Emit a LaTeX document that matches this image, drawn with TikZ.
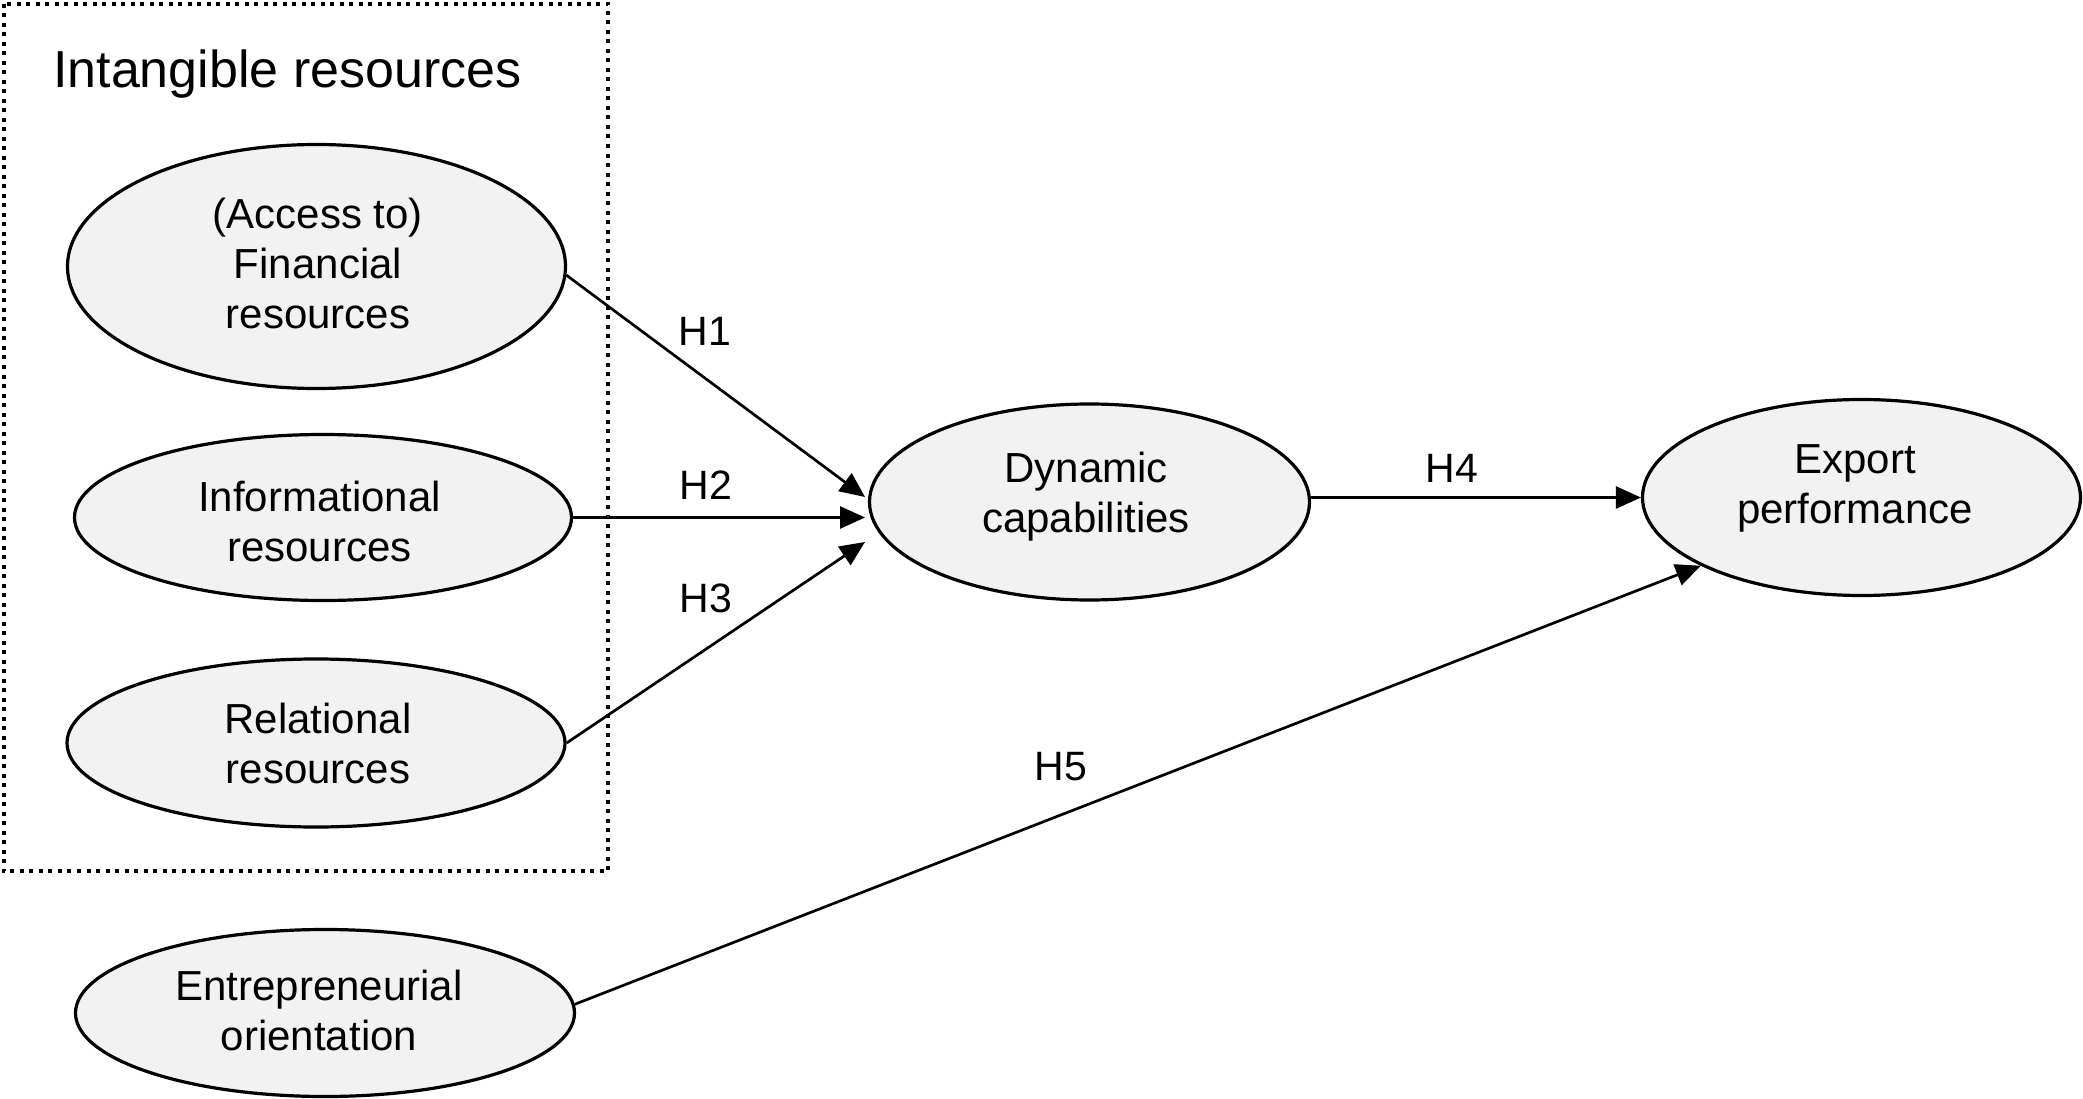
\documentclass[tikz,border=0pt]{standalone}
\usepackage{fontspec}
\setmainfont{Liberation Sans}
\usetikzlibrary{arrows.meta,shapes.geometric,calc}
\definecolor{ellfill}{HTML}{F2F2F2}
\begin{document}
\begin{tikzpicture}[x=1pt,y=-1pt,
  ell/.style={draw, line width=3.2pt, fill=ellfill, ellipse, inner sep=0pt},
  lbl/.style={align=center, inner sep=0pt, font=\fontsize{42}{50}\selectfont},
  hyp/.style={inner sep=0pt, font=\fontsize{41}{50}\selectfont},
  arr/.style={line width=2.7pt, -{Triangle[length=25pt,width=22pt]}},
  grp/.style={draw, line width=4pt, dash pattern=on 4pt off 5.5pt}]
\useasboundingbox (0,0) rectangle (2083,1099);
% group box
\draw[grp] (3.5,4) rectangle (608,871);
\node[anchor=base west, inner sep=0pt, font=\fontsize{52}{60}\selectfont] (title) at (53,88) {Intangible resources};
% ellipses
\node[ell, minimum width=498pt, minimum height=244pt] (fin) at (316.5,266.5) {};
\node[ell, minimum width=497pt, minimum height=166pt] (inf) at (323,517.5) {};
\node[ell, minimum width=498pt, minimum height=168pt] (rel) at (316,743) {};
\node[ell, minimum width=499pt, minimum height=167pt] (ent) at (325,1013) {};
\node[ell, minimum width=440pt, minimum height=196pt] (dyn) at (1089.5,502) {};
\node[ell, minimum width=438pt, minimum height=196pt] (exp) at (1861.5,497.5) {};
% texts
\node[lbl] (finT) at (318,263.5) {(Access to)\\Financial\\resources};
\node[lbl] (infT) at (319.5,521) {Informational\\resources};
\node[lbl] (relT) at (318,743) {Relational\\resources};
\node[lbl] (entT) at (319,1010) {Entrepreneurial\\orientation};
\node[lbl] (dynT) at (1086,496.5) {Dynamic\\capabilities};
\node[lbl] (expT) at (1855,488.5) {Export\\performance};
% end points
\coordinate (t1) at ($(dyn.center)+(-224.5,-5)$);
\coordinate (t2) at ($(dyn.center)+(-224.5,0)$);
\coordinate (t3) at ($(dyn.center)+(-224.5,40)$);
% connectors
\draw[arr] (fin.-2) -- (t1);
\draw[arr] (inf.east) -- (inf.east -| t2);
\draw[arr] (rel.east) -- (t3);
\draw[arr] (exp.west -| dyn.east) -- (exp.west);
\draw[arr] (ent.2) -- (exp.203.5);
% hypothesis labels
\node[hyp] (h1) at (705,331) {H1};
\node[hyp] (h2) at (706,485) {H2};
\node[hyp] (h3) at (706,598) {H3};
\node[hyp] (h4) at (1452,468) {H4};
\node[hyp] (h5) at (1061,767) {H5};
\end{tikzpicture}
\end{document}
